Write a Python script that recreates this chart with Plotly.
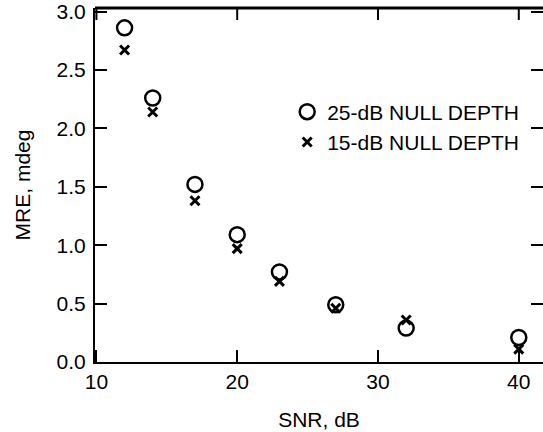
import plotly.graph_objects as go

snr_db = [12, 14, 17, 20, 23, 27, 32, 40]
mre_25db = [2.86, 2.26, 1.52, 1.09, 0.77, 0.49, 0.29, 0.21]
mre_15db = [2.67, 2.14, 1.38, 0.97, 0.69, 0.46, 0.36, 0.11]

x_ticks = [10, 20, 30, 40]
y_ticks = [0.0, 0.5, 1.0, 1.5, 2.0, 2.5, 3.0]
y_tick_text = ["0.0", "0.5", "1.0", "1.5", "2.0", "2.5", "3.0"]

FONT = "Liberation Sans, Arial, sans-serif"
X_RANGE = [9.9, 41.72]
Y_RANGE = [0, 3.03]
TICK_LEN = 12
WIDTH, HEIGHT = 543, 432
MARGIN = dict(l=95, r=0, t=8, b=70)

fig = go.Figure()
fig.add_trace(go.Scatter(
    x=snr_db, y=mre_25db, mode="markers", name="25-dB NULL DEPTH",
    marker=dict(symbol="circle-open", size=15, color="black", line=dict(width=2.5, color="black")),
))
fig.add_trace(go.Scatter(
    x=snr_db, y=mre_15db, mode="markers", name="15-dB NULL DEPTH",
    marker=dict(symbol="x-thin", size=9, color="black", line=dict(width=3, color="black")),
))
# invisible helper trace so the right-hand tick axis gets drawn
fig.add_trace(go.Scatter(x=snr_db, y=mre_25db, xaxis="x", yaxis="y2", mode="markers",
                         marker=dict(opacity=0), showlegend=False, hoverinfo="skip"))

tick_style = dict(ticks="inside", ticklen=TICK_LEN, tickwidth=2, tickcolor="black",
                  showgrid=False, zeroline=False)

# top frame line and inward top ticks (frame decoration, not data)
plot_h = HEIGHT - MARGIN["t"] - MARGIN["b"]
tick_len_data = TICK_LEN * (Y_RANGE[1] - Y_RANGE[0]) / plot_h
frame_shapes = [dict(type="line", xref="paper", yref="paper", x0=0, x1=1, y0=1, y1=1,
                     line=dict(color="black", width=3))]
for v in x_ticks:
    frame_shapes.append(dict(type="line", xref="x", yref="paper", x0=v, x1=v,
                             y0=1, y1=1 - TICK_LEN / plot_h,
                             line=dict(color="black", width=2)))

fig.update_layout(
    width=WIDTH, height=HEIGHT,
    margin=MARGIN,
    paper_bgcolor="white", plot_bgcolor="white",
    font=dict(family=FONT, size=21, color="black"),
    showlegend=True,
    legend=dict(x=0.429, y=0.764, xanchor="left", yanchor="top",
                bgcolor="rgba(0,0,0,0)", font=dict(size=21), tracegroupgap=0),
    shapes=frame_shapes,
    xaxis=dict(
        range=X_RANGE, tickvals=x_ticks, ticktext=[str(v) for v in x_ticks],
        showline=True, linewidth=2, linecolor="black", mirror=False,
        title=dict(text="SNR, dB", font=dict(size=21), standoff=20),
        **tick_style,
    ),
    yaxis=dict(
        range=Y_RANGE, tickvals=y_ticks, ticktext=y_tick_text,
        showline=True, linewidth=2, linecolor="black", mirror=False,
        ticklabelstandoff=3, ticklabeloverflow="allow", automargin=False,
        title=dict(text="MRE, mdeg", font=dict(size=21), standoff=20),
        **tick_style,
    ),
    yaxis2=dict(
        range=Y_RANGE, tickvals=y_ticks, overlaying="y", side="right", anchor="x",
        showline=False, showticklabels=False,
        **tick_style,
    ),
)

fig.write_html("out.html", post_script="document.body.style.margin='0';",
               config={"displayModeBar": False})
